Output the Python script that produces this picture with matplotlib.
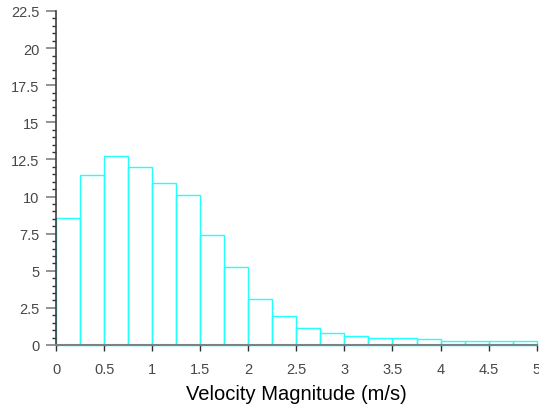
import matplotlib
matplotlib.use("Agg")
import matplotlib.pyplot as plt
import numpy as np
from matplotlib.ticker import MultipleLocator, FuncFormatter

bin_edges = [0, 0.25, 0.5, 0.75, 1.0, 1.25, 1.5, 1.75, 2.0, 2.25, 2.5,
             2.75, 3.0, 3.25, 3.5, 3.75, 4.0, 4.25, 4.5, 4.75, 5.0]
percent = [8.55, 11.46, 12.71, 12.0, 10.92, 10.1, 7.39, 5.28, 3.08, 1.93,
           1.15, 0.79, 0.61, 0.49, 0.45, 0.38, 0.29, 0.25, 0.25, 0.25]
xlabel = "Velocity Magnitude (m/s)"

plt.rcParams['font.family'] = ['Liberation Sans', 'DejaVu Sans']

fig = plt.figure(figsize=(5.39, 4.10), dpi=100)
ax = fig.add_axes([56/539, (410-346)/410, (536.7-56)/539, (346-12)/410])

lefts = np.array(bin_edges[:-1])
widths = np.diff(bin_edges)
ax.bar(lefts, percent, width=widths, align='edge', facecolor='none',
       edgecolor='#22ffff', linewidth=1.0, clip_on=False)

ax.set_xlim(0, 5)
ax.set_ylim(0, 22.5)
ax.xaxis.set_major_locator(MultipleLocator(0.5))
ax.yaxis.set_major_locator(MultipleLocator(2.5))
ax.yaxis.set_minor_locator(MultipleLocator(0.5))

def fmt(v, pos):
    return f"{v:g}"
ax.xaxis.set_major_formatter(FuncFormatter(fmt))
ax.yaxis.set_major_formatter(FuncFormatter(fmt))

for s in ['top', 'right']:
    ax.spines[s].set_visible(False)
ax.spines['bottom'].set_color('#808080')
ax.spines['left'].set_color('#404040')
ax.spines['bottom'].set_linewidth(1.5)
ax.spines['left'].set_linewidth(1.2)

ax.tick_params(axis='y', which='major', length=7, width=1.2, color='#808080',
               labelsize=10.5, labelcolor='#484848', pad=5)
ax.tick_params(axis='y', which='minor', length=3, width=1, color='#303030')
ax.tick_params(axis='x', which='major', length=4, width=1, color='#303030',
               labelsize=10.5, labelcolor='#484848', pad=8)

ax.set_xlabel(xlabel, fontsize=14.5, color='#000000', labelpad=6)

fig.savefig("out.png", dpi=100)
